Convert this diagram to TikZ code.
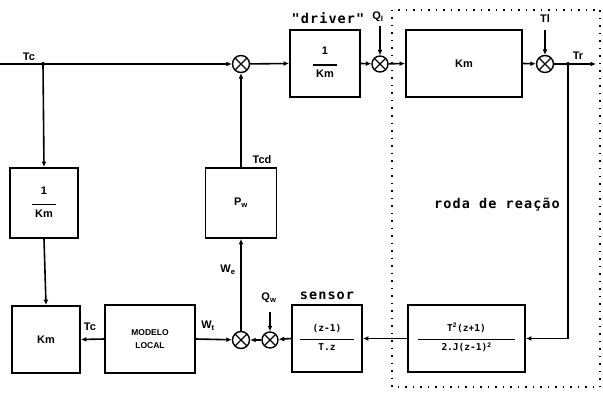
\documentclass[tikz,border=0pt]{standalone}
\usepackage{fontspec}
\setmainfont{Liberation Sans}
\newfontfamily\tyfont[LetterSpace=8]{DejaVu Sans Mono}
\newfontfamily\tyfontb{DejaVu Sans Mono}
\usetikzlibrary{arrows.meta}
\newcommand{\myfrac}[3]{\begin{tabular}{@{}c@{}}#1\\[-2pt]\rule{#3}{1.4pt}\\[-1pt]#2\end{tabular}}
\tikzset{
  x=1pt,y=-1pt,
  ln/.style={line width=1.6pt},
  arr/.style={ln,-{Latex[length=5.5pt,width=5pt]}},
  blk/.style={draw,line width=1.9pt,inner sep=0pt,font=\bfseries\fontsize{11}{13}\selectfont},
  sumj/.style={circle,draw,line width=1.4pt,minimum size=17pt,inner sep=0pt,
    path picture={\draw[line width=1.1pt] (path picture bounding box.north west)--(path picture bounding box.south east)
      (path picture bounding box.north east)--(path picture bounding box.south west);}},
  lbl/.style={font=\bfseries\fontsize{11}{13}\selectfont,inner sep=1pt},
  tlbl/.style={font=\tyfont\bfseries\fontsize{13.5}{15}\selectfont,inner sep=1pt},
}
\begin{document}
\begin{tikzpicture}
\useasboundingbox (0,0) rectangle (603,396);
% dotted region
\draw[line width=1.5pt,dash pattern=on 1.5pt off 6pt] (392,10) rectangle (600,387);
% blocks
\node[blk,minimum width=70pt,minimum height=67pt] (drv) at (325,63.5) {\myfrac{1}{Km}{24pt}};
\node[blk,minimum width=116pt,minimum height=67pt] (km1) at (464,63.5) {Km};
\node[blk,minimum width=68pt,minimum height=70pt] (ikm) at (44,203) {\myfrac{1}{Km}{24pt}};
\node[blk,minimum width=68pt,minimum height=67pt] (km2) at (46,339.5) {Km};
\node[blk,minimum width=90pt,minimum height=68pt,align=center,font=\bfseries\fontsize{8.5}{13}\selectfont] (mod) at (150,339) {MODELO\\LOCAL};
\node[blk,minimum width=71pt,minimum height=70pt] (pw) at (241,203) {P$_{\mathbf w}$};
\node[blk,minimum width=70pt,minimum height=67pt,font=\tyfontb\bfseries\fontsize{9.5}{11}\selectfont] (sen) at (327,338.5) {\myfrac{(z-1)}{T.z}{54pt}};
\node[blk,minimum width=117pt,minimum height=67pt,font=\tyfontb\bfseries\fontsize{9.5}{11}\selectfont] (pl) at (466.5,338.5) {\myfrac{T$^{\mathbf 2}$(z+1)}{2.J(z-1)$^{\mathbf 2}$}{97pt}};
% summing junctions
\node[sumj] (s1) at (241,64) {};
\node[sumj,minimum size=16pt] (s2) at (380,64) {};
\node[sumj] (s3) at (545,64) {};
\node[sumj] (s4) at (241,340) {};
\node[sumj,minimum size=16pt] (s5) at (270,340) {};
% coordinates
\coordinate (in) at (0,64);
\coordinate (j) at (43,64);
\coordinate (br) at (568,64);
\coordinate (out) at (596,64);
\coordinate (qi) at (380,26);
\coordinate (tl) at (545,30);
\coordinate (qw) at (270,312);
% connectors
\draw[arr] (in) -- (s1);
\fill (j) circle (2pt);
\draw[arr] (j) -- (ikm.north);
\draw[arr] (ikm.south) -- (km2.north);
\draw[arr] (s1) -- (drv.west);
\draw[arr] (drv.east) -- (s2);
\draw[arr] (s2) -- (km1.west);
\draw[arr] (km1.east) -- (s3);
\draw[arr] (s3) -- (out);
\fill (br) circle (2pt);
\draw[arr] (br) |- (pl.east);
\draw[arr] (pl.west) -- (sen.east);
\draw[arr] (sen.west) -- (s5);
\draw[arr] (s5) -- (s4);
\draw[arr] (mod.east) -- (s4);
\draw[arr] (mod.west) -- (km2.east);
\draw[arr] (s4) -- (pw.south);
\draw[arr] (pw.north) -- (s1);
\draw[arr] (qi) -- (s2);
\draw[arr] (tl) -- (s3);
\draw[arr] (qw) -- (s5);
% labels
\node[lbl] (ltc) at (29,57) {Tc};
\node[tlbl] (ldrv) at (328,18) {"driver"};
\node[lbl] (lqi) at (378,17) {Q$_{\mathbf I}$};
\node[lbl] (ltl) at (545,19) {Tl};
\node[lbl] (ltr) at (578,56) {Tr};
\node[lbl] (ltcd) at (262,160) {Tcd};
\node[lbl] (lwe) at (228,270) {W$_{\mathbf e}$};
\node[lbl] (lwt) at (208,326) {W$_{\mathbf t}$};
\node[lbl] (ltc2) at (90,327) {Tc};
\node[lbl] (lqw) at (269,298) {Q$_{\mathbf w}$};
\node[tlbl] (lsen) at (327,296) {sensor};
\node[tlbl] (lroda) at (497,205) {roda de reação};
\end{tikzpicture}
\end{document}
